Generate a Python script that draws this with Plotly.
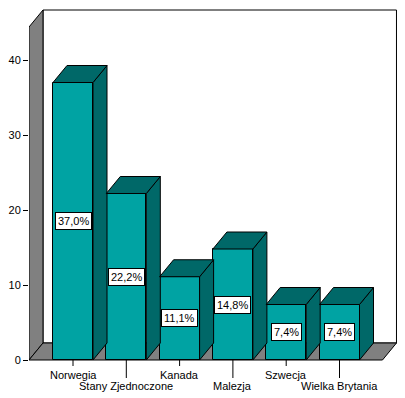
import plotly.graph_objects as go

categories = ["Norwegia", "Stany Zjednoczone", "Kanada", "Malezja", "Szwecja", "Wielka Brytania"]
values = [37.0, 22.2, 11.1, 14.8, 7.4, 7.4]
value_labels = ["37,0%", "22,2%", "11,1%", "14,8%", "7,4%", "7,4%"]
y_ticks = [0, 10, 20, 30, 40]

FRONT = "#00A3A3"
DARK = "#006868"
GRAY = "#808080"

W, H = 405, 398
ml, mr, mt, mb = 29, 8, 9, 0
px_x = 53.3          # pixels per category unit
px_y = 7.5           # pixels per y unit
x0_px = 73 - ml      # pixel offset of first category inside plot area
xmin = -x0_px / px_x
xmax = xmin + (W - ml - mr) / px_x
ymax_plot = (360 - mt) / px_y
ymin_plot = ymax_plot - (H - mt - mb) / px_y
bw = 40 / px_x
dx = 14 / px_x
dy = 17 / px_y
axis_top = 44.4

xs = list(range(len(categories)))

fig = go.Figure()
fig.add_trace(go.Bar(
    x=xs, y=values, width=bw, marker=dict(color=FRONT, line=dict(color="black", width=1)),
    hoverinfo="skip", showlegend=False))

shapes = []
def poly(pts, fill, layer="above", lw=1):
    d = "M " + " L ".join(f"{x},{y}" for x, y in pts) + " Z"
    shapes.append(dict(type="path", path=d, xref="x", yref="y", fillcolor=fill,
                       line=dict(color="black", width=lw), layer=layer))

# back wall (white) and walls
poly([(xmin + dx, dy), (xmin + dx, axis_top + dy), (xmax - 0.01, axis_top + dy), (xmax - 0.01, dy)], "white", "below")
poly([(xmin, 0), (xmin, axis_top), (xmin + dx, axis_top + dy), (xmin + dx, dy)], GRAY, "below")
poly([(xmin, 0), (xmin + dx, dy), (xmax - 0.01, dy), (xmax - 0.01 - dx, 0)], GRAY, "below")

for x, v in zip(xs, values):
    l, r = x - bw / 2, x + bw / 2
    poly([(r, 0), (r + dx, dy), (r + dx, v + dy), (r, v)], DARK)
    poly([(l, v), (l + dx, v + dy), (r + dx, v + dy), (r, v)], DARK)

annotations = []
for i, (x, v, lab) in enumerate(zip(xs, values, value_labels)):
    annotations.append(dict(x=x, y=v / 2, xref="x", yref="y", text=lab, showarrow=False,
                            bgcolor="white", bordercolor="black", borderwidth=1, borderpad=2,
                            font=dict(family="Liberation Sans, Arial", size=11, color="black")))
    low = i % 2 == 1
    tick_len = 18 if low else 6
    shapes.append(dict(type="line", xref="x", yref="y", x0=x, x1=x, y0=0, y1=-tick_len / px_y,
                       line=dict(color="black", width=1)))
    annotations.append(dict(x=x, y=-(26 if low else 14.5) / px_y, xref="x", yref="y", text=categories[i],
                            showarrow=False, yanchor="middle",
                            font=dict(family="Liberation Sans, Arial", size=11, color="black")))

fig.update_layout(
    width=W, height=H, margin=dict(l=ml, r=mr, t=mt, b=mb, autoexpand=False),
    paper_bgcolor="white", plot_bgcolor="white",
    shapes=shapes, annotations=annotations,
    xaxis=dict(range=[xmin, xmax], visible=False, fixedrange=True),
    yaxis=dict(range=[ymin_plot, ymax_plot], tickvals=y_ticks, ticktext=[str(t) for t in y_ticks],
               ticks="outside", ticklen=5, tickcolor="black", showgrid=False, zeroline=False,
               showline=False, automargin=False,
               tickfont=dict(family="Liberation Sans, Arial", size=11, color="black")),
    bargap=0,
)
fig.write_html("out.html", config={"displayModeBar": False},
               post_script="document.body.style.margin='0';document.body.style.overflow='hidden';")
